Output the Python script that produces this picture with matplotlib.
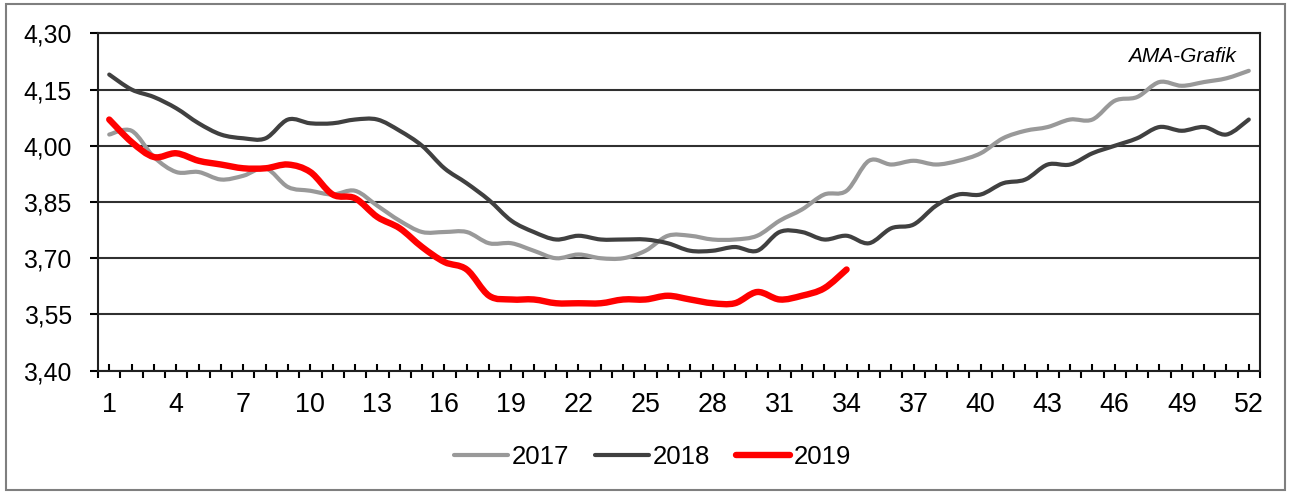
import numpy as np
import matplotlib.pyplot as plt
from matplotlib.path import Path
from matplotlib.patches import PathPatch
from matplotlib.lines import Line2D
from matplotlib.ticker import FixedLocator, FuncFormatter

# Kalenderwochen und Preise (EUR/kg)
wochen = np.arange(1, 53)

preis_2017 = [4.03, 4.04, 3.97, 3.93, 3.93, 3.91, 3.92, 3.94, 3.89, 3.88,
              3.87, 3.88, 3.84, 3.80, 3.77, 3.77, 3.77, 3.74, 3.74, 3.72,
              3.70, 3.71, 3.70, 3.70, 3.72, 3.76, 3.76, 3.75, 3.75, 3.76,
              3.80, 3.83, 3.87, 3.88, 3.96, 3.95, 3.96, 3.95, 3.96, 3.98,
              4.02, 4.04, 4.05, 4.07, 4.07, 4.12, 4.13, 4.17, 4.16, 4.17,
              4.18, 4.20]

preis_2018 = [4.19, 4.15, 4.13, 4.10, 4.06, 4.03, 4.02, 4.02, 4.07, 4.06,
              4.06, 4.07, 4.07, 4.04, 4.00, 3.94, 3.90, 3.855, 3.80, 3.77,
              3.75, 3.76, 3.75, 3.75, 3.75, 3.74, 3.72, 3.72, 3.73, 3.72,
              3.77, 3.77, 3.75, 3.76, 3.74, 3.78, 3.79, 3.84, 3.87, 3.87,
              3.90, 3.91, 3.95, 3.95, 3.98, 4.00, 4.02, 4.05, 4.04, 4.05,
              4.03, 4.07]

preis_2019 = [4.07, 4.01, 3.97, 3.98, 3.96, 3.95, 3.94, 3.94, 3.95, 3.93,
              3.87, 3.86, 3.81, 3.78, 3.73, 3.69, 3.67, 3.60, 3.59, 3.59,
              3.58, 3.58, 3.58, 3.59, 3.59, 3.60, 3.59, 3.58, 3.58, 3.61,
              3.59, 3.60, 3.62, 3.67]

y_ticks = [3.40, 3.55, 3.70, 3.85, 4.00, 4.15, 4.30]
x_labels = list(range(1, 53, 3))


def glatte_linie(x, y):
    # Catmull-Rom als Bezier-Pfad, wie die geglaetteten Excel-Linien
    pts = np.column_stack([x, y]).astype(float)
    verts = [pts[0]]
    codes = [Path.MOVETO]
    for i in range(len(pts) - 1):
        p0 = pts[i - 1] if i > 0 else pts[i]
        p1 = pts[i]
        p2 = pts[i + 1]
        p3 = pts[i + 2] if i + 2 < len(pts) else pts[i + 1]
        verts += [p1 + (p2 - p0) / 6, p2 - (p3 - p1) / 6, p2]
        codes += [Path.CURVE4] * 3
    return Path(verts, codes)


plt.rcParams['font.family'] = ['Liberation Sans', 'DejaVu Sans']

fig = plt.figure(figsize=(12.92, 4.92), dpi=100)
ax = fig.add_axes([0.0759, 0.2465, 0.8993, 0.6858])

serien = [(preis_2017, '#999999', 3.0, '2017'),
          (preis_2018, '#404040', 3.0, '2018'),
          (preis_2019, '#ff0000', 4.6, '2019')]

handles = []
for werte, farbe, lw, name in serien:
    pfad = glatte_linie(wochen[:len(werte)], werte)
    ax.add_patch(PathPatch(pfad, facecolor='none', edgecolor=farbe, lw=lw,
                           capstyle='round', joinstyle='round', zorder=3))
    handles.append(Line2D([], [], color=farbe, lw=lw, solid_capstyle='round'))

ax.set_xlim(0.5, 52.5)
ax.set_ylim(3.40, 4.30)

# y-Achse
ax.set_yticks(y_ticks)
ax.yaxis.set_major_formatter(FuncFormatter(lambda v, p: f'{v:.2f}'.replace('.', ',')))
ax.tick_params(axis='y', direction='out', length=6, width=1.5, labelsize=17.8, pad=13)
ax.yaxis.grid(True, color='#303030', lw=1.5)
ax.set_axisbelow(True)

# x-Achse: Striche zwischen den Wochen nach aussen, an den Wochen nach innen
ax.xaxis.set_major_locator(FixedLocator(np.arange(0.5, 53, 1)))
ax.xaxis.set_major_formatter(FuncFormatter(lambda v, p: ''))
ax.xaxis.set_minor_locator(FixedLocator(wochen))
ax.xaxis.set_minor_formatter(FuncFormatter(lambda v, p: str(int(v)) if int(v) in x_labels else ''))
ax.tick_params(axis='x', which='major', direction='out', length=5, width=1.5)
ax.tick_params(axis='x', which='minor', direction='in', length=5, width=1.5,
               labelsize=19.4, pad=15)

for s in ax.spines.values():
    s.set_linewidth(1.5)
    s.set_color('#202020')

ax.text(0.979, 0.93, 'AMA-Grafik', transform=ax.transAxes, ha='right',
        va='center', fontsize=15, style='italic')

fig.legend(handles, ['2017', '2018', '2019'], loc='center',
           bbox_to_anchor=(0.505, 0.071), ncol=3, frameon=False,
           fontsize=18.5, handlelength=2.1, handletextpad=0.15,
           columnspacing=1.0)

# Rahmen um die ganze Grafik
fig.patches.append(plt.Rectangle((0.005, 0.004), 0.9895, 0.988,
                                 transform=fig.transFigure, fill=False,
                                 edgecolor='#7f7f7f', lw=1.5))

fig.savefig('out.png', dpi=100)
